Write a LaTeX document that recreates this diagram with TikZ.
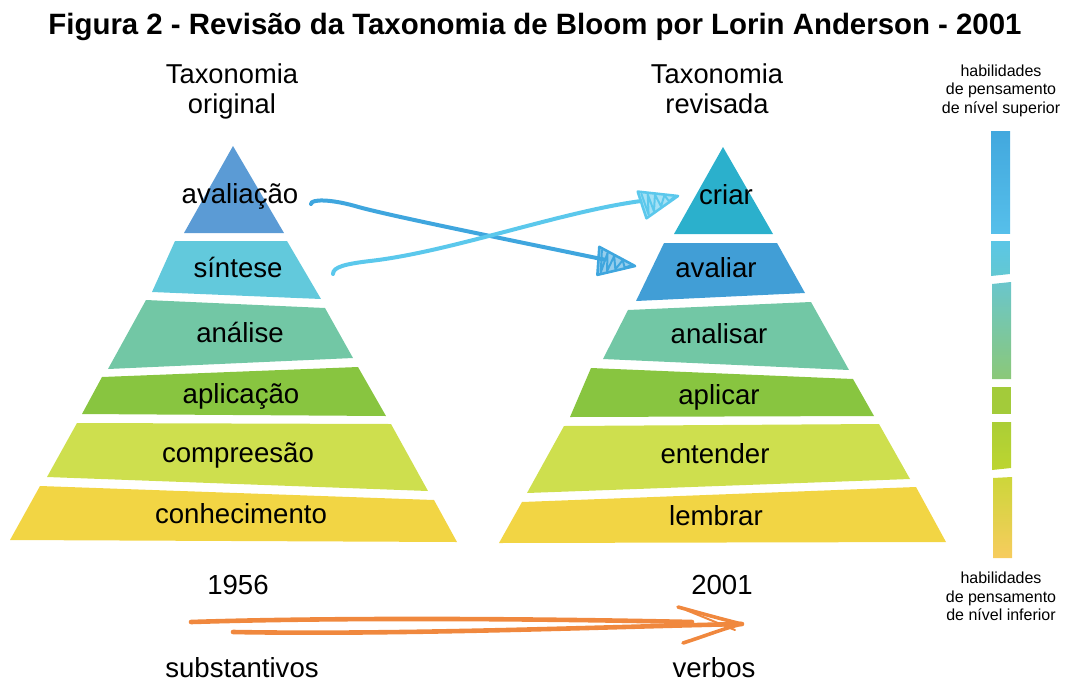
\documentclass[tikz,border=0pt]{standalone}
\usepackage{fontspec}
\setmainfont{Liberation Sans}
\usetikzlibrary{calc}
\usetikzlibrary{arrows.meta}

\definecolor{topBlue}{HTML}{5B9BD5}
\definecolor{sinCyan}{HTML}{62C9DC}
\definecolor{criaTeal}{HTML}{2BB0CC}
\definecolor{avalBlue}{HTML}{419ED6}
\definecolor{anaGreen}{HTML}{72C7A5}
\definecolor{apGreen}{HTML}{88C540}
\definecolor{compLime}{HTML}{CEDF4E}
\definecolor{conYellow}{HTML}{F2D544}
\definecolor{arrDark}{HTML}{3FA6DE}
\definecolor{arrLight}{HTML}{5BC8EC}
\definecolor{arrOrange}{HTML}{F0883E}
% bar colours, top to bottom
\definecolor{barA}{HTML}{42A8DE}
\definecolor{barB}{HTML}{56BFEA}
\definecolor{barC}{HTML}{5BC6E6}
\definecolor{barD}{HTML}{63C8D2}
\definecolor{barE}{HTML}{6AC6CC}
\definecolor{barF}{HTML}{8BC878}
\definecolor{barG}{HTML}{A3CB3A}
\definecolor{barH}{HTML}{ABCE36}
\definecolor{barI}{HTML}{BDD530}
\definecolor{barJ}{HTML}{CDD63A}
\definecolor{barK}{HTML}{F7CC5E}

\tikzset{
  lbl/.style={inner sep=0pt, anchor=base, font=\fontsize{27.6}{30}\selectfont},
  head/.style={inner sep=0pt, anchor=north, align=center, font=\fontsize{27.3}{30}\selectfont},
  small/.style={inner sep=0pt, anchor=north, align=center, font=\fontsize{16}{18.5}\selectfont},
  sketch/.style={line width=4pt, line cap=round},
  scribble/.pic={
    \fill[opacity=0.55] (0,0) -- (-38,-14) -- (-36,14) -- cycle;
    \draw[line width=2.6pt, line join=round, line cap=round] (0,0) -- (-38,-14) -- (-36,14) -- cycle;
    \draw[line width=2pt, line join=round, line cap=round]
      (-35,-11) -- (-33,11) -- (-29,-9) -- (-27,9) -- (-22,-7) -- (-19,6) -- (-13,-4) -- (-10,3) -- (-4,0);
  }
}

\begin{document}
\begin{tikzpicture}[x=1pt, y=-1pt]
\useasboundingbox (0,0) rectangle (1069,681);

\node[inner sep=0pt, anchor=base, font=\bfseries\fontsize{29.4}{32}\selectfont] (title) at (535,34)
  {Figura 2 - Revisão da Taxonomia de Bloom por Lorin Anderson - 2001};

% original pyramid
\fill[topBlue]   (233,146) -- (284,233) -- (184,233) -- cycle;
\fill[sinCyan]   (175,241) -- (287,241) -- (321,299) -- (152,292) -- cycle;
\fill[anaGreen]  (146,300) -- (325,308) -- (353,358) -- (108,369) -- cycle;
\fill[apGreen]   (102,377) -- (358,367) -- (386,416) -- (82,414) -- cycle;
\fill[compLime]  (77,423) -- (391,424) -- (428,491) -- (47,477) -- cycle;
\fill[conYellow] (40,486) -- (434,500) -- (457,542) -- (10,540) -- cycle;

\node[head] (orig) at (232,63.7) {Taxonomia\\original};
\node[lbl] (avaliacao) at (240,203) {avaliação};
\node[lbl] (sintese) at (238,277) {síntese};
\node[lbl] (analise) at (240,342) {análise};
\node[lbl] (aplicacao) at (241,403) {aplicação};
\node[lbl] (compreesao) at (238,462) {compreesão};
\node[lbl] (conhecimento) at (241,523) {conhecimento};

% revised pyramid
\fill[criaTeal]  (723,147) -- (773,234) -- (674,234) -- cycle;
\fill[avalBlue]  (664,243) -- (777,243) -- (805,293) -- (636,301) -- cycle;
\fill[anaGreen]  (628,310) -- (811,302) -- (849,370) -- (603,359) -- cycle;
\fill[apGreen]   (591,368) -- (853,379) -- (874,416) -- (570,417) -- cycle;
\fill[compLime]  (564,426) -- (879,424) -- (910,479) -- (527,493) -- cycle;
\fill[conYellow] (522,502) -- (916,487) -- (946,542) -- (499,543) -- cycle;

\node[head] (rev) at (717,63.7) {Taxonomia\\revisada};
\node[lbl] (criar) at (726,204) {criar};
\node[lbl] (avaliar) at (716,277) {avaliar};
\node[lbl] (analisar) at (719,343) {analisar};
\node[lbl] (aplicar) at (719,404) {aplicar};
\node[lbl] (entender) at (715,463) {entender};
\node[lbl] (lembrar) at (716,525) {lembrar};

% crossing arrows
\coordinate (avalFrom) at (311,204);
\coordinate (avalTo) at (635,266);
\coordinate (sintFrom) at (333,274);
\coordinate (sintTo) at (678,196);
\draw[sketch, arrDark, shorten >=31pt] (avalFrom) .. controls (311,199) and (330,199) .. (355,206)
  .. controls (385,215) and (520,242) .. (avalTo);
\draw[sketch, arrLight, shorten >=38pt] (sintFrom) .. controls (333,267) and (345,264) .. (370,261)
  .. controls (450,252) and (560,212) .. (sintTo);
\pic[color=arrDark, rotate=-8] at (avalTo) {scribble};
\pic[color=arrLight, rotate=14] at (sintTo) {scribble};

% years and word classes
\node[lbl] (y1956) at (238,594) {1956};
\node[lbl] (y2001) at (722,594) {2001};
\node[lbl] (subst) at (242,677) {substantivos};
\node[lbl] (verbos) at (714,677) {verbos};

\coordinate (yrFrom) at (191,622);
\coordinate (yrTo) at (742,624);
\draw[sketch, arrOrange, line width=4.6pt] (yrFrom) .. controls (350,617) and (550,619) .. (692,622);
\draw[sketch, arrOrange, line width=4.6pt] (233,632) .. controls (400,635) and (600,627) .. (yrTo);
\draw[sketch, arrOrange, line width=3.6pt] (678,607) .. controls (700,613) and (725,620) .. (yrTo);
\draw[sketch, arrOrange, line width=3.6pt] (683,643) .. controls (705,636) and (725,628) .. (yrTo);
\draw[arrOrange, line width=2pt, line cap=round] (686,610) -- (735,630);

% thinking skills bar
\node[small] (superior) at (1001,64.5) {habilidades\\de pensamento\\de nível superior};
\shade[top color=barA, bottom color=barB] (991,131) -- (1010,131) -- (1010,233) -- (991,233) -- cycle;
\shade[top color=barC, bottom color=barD] (991,241) -- (1010,241) -- (1010,274) -- (991,276) -- cycle;
\shade[top color=barE, bottom color=barF] (992,284) -- (1011,282) -- (1011,379) -- (992,379) -- cycle;
\fill[barG] (992,387) -- (1011,387) -- (1011,414) -- (992,414) -- cycle;
\shade[top color=barH, bottom color=barI] (992,422) -- (1011,422) -- (1011,468) -- (992,470) -- cycle;
\shade[top color=barJ, bottom color=barK] (993,478) -- (1012,477) -- (1012,558) -- (993,558) -- cycle;
\node[small] (inferior) at (1001,571.7) {habilidades\\de pensamento\\de nível inferior};

\end{tikzpicture}
\end{document}
